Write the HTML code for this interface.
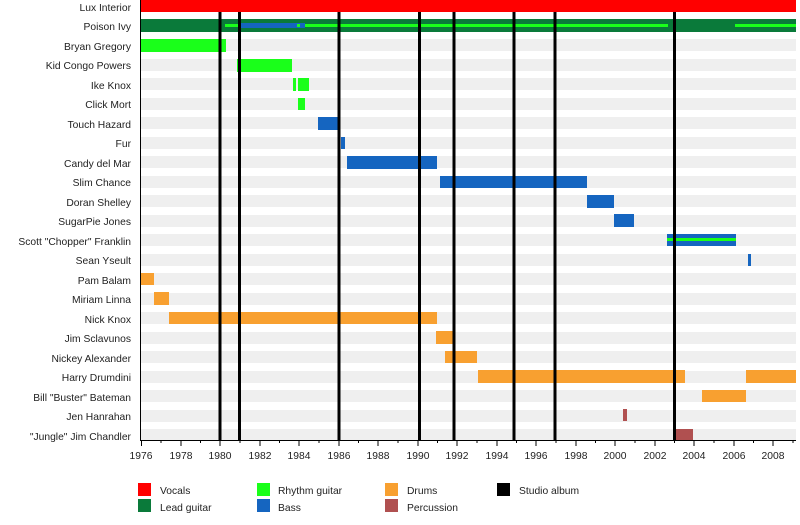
<!DOCTYPE html>
<html><head><meta charset="utf-8"><style>
body{margin:0;background:#fff;}
svg text{font-family:"Liberation Sans",sans-serif;font-size:10.3px;fill:#222;}
</style></head><body>
<svg width="800" height="520" xmlns="http://www.w3.org/2000/svg">
<g fill="#efefef">
<rect x="141" y="20" width="655" height="12"/><rect x="141" y="39" width="655" height="12"/>
<rect x="141" y="59" width="655" height="12"/><rect x="141" y="78" width="655" height="12"/>
<rect x="141" y="98" width="655" height="12"/><rect x="141" y="117" width="655" height="12"/>
<rect x="141" y="137" width="655" height="12"/><rect x="141" y="156" width="655" height="12"/>
<rect x="141" y="176" width="655" height="12"/><rect x="141" y="195" width="655" height="12"/>
<rect x="141" y="215" width="655" height="12"/><rect x="141" y="234" width="655" height="12"/>
<rect x="141" y="254" width="655" height="12"/><rect x="141" y="273" width="655" height="12"/>
<rect x="141" y="293" width="655" height="12"/><rect x="141" y="312" width="655" height="12"/>
<rect x="141" y="332" width="655" height="12"/><rect x="141" y="351" width="655" height="12"/>
<rect x="141" y="371" width="655" height="12"/><rect x="141" y="390" width="655" height="12"/>
<rect x="141" y="410" width="655" height="12"/><rect x="141" y="429" width="655" height="11"/>
</g>
<g text-anchor="end">
<text x="131" y="11">Lux Interior</text><text x="131" y="30">Poison Ivy</text>
<text x="131" y="50">Bryan Gregory</text><text x="131" y="69">Kid Congo Powers</text>
<text x="131" y="89">Ike Knox</text><text x="131" y="108">Click Mort</text>
<text x="131" y="128">Touch Hazard</text><text x="131" y="147">Fur</text>
<text x="131" y="167">Candy del Mar</text><text x="131" y="186">Slim Chance</text>
<text x="131" y="206">Doran Shelley</text><text x="131" y="225">SugarPie Jones</text>
<text x="131" y="245">Scott "Chopper" Franklin</text><text x="131" y="264">Sean Yseult</text>
<text x="131" y="284">Pam Balam</text><text x="131" y="303">Miriam Linna</text>
<text x="131" y="323">Nick Knox</text><text x="131" y="342">Jim Sclavunos</text>
<text x="131" y="362">Nickey Alexander</text><text x="131" y="381">Harry Drumdini</text>
<text x="131" y="401">Bill "Buster" Bateman</text><text x="131" y="420">Jen Hanrahan</text>
<text x="131" y="440">"Jungle" Jim Chandler</text>
</g>
<rect x="141" y="0" width="655" height="12" fill="#ff0000"/>
<rect x="141" y="19" width="655" height="13" fill="#0a7a3a"/>
<rect x="225" y="24" width="443" height="3" fill="#1aff1a"/>
<rect x="735" y="24" width="61" height="3" fill="#1aff1a"/>
<rect x="240" y="23" width="65" height="5" fill="#1565c0"/>
<rect x="297" y="24" width="3" height="3" fill="#1aff1a"/>
<g fill="#1aff1a">
<rect x="141" y="39" width="85" height="13"/><rect x="237" y="59" width="55" height="13"/>
<rect x="293" y="78" width="3" height="13"/><rect x="298" y="78" width="11" height="13"/>
<rect x="298" y="98" width="7" height="12"/>
</g>
<g fill="#1565c0">
<rect x="318" y="117" width="20" height="13"/><rect x="341" y="137" width="4" height="12"/>
<rect x="347" y="156" width="90" height="13"/><rect x="440" y="176" width="147" height="12"/>
<rect x="587" y="195" width="27" height="13"/><rect x="614" y="214" width="20" height="13"/>
<rect x="667" y="234" width="69" height="12"/><rect x="748" y="254" width="3" height="12"/>
</g>
<rect x="667" y="238" width="69" height="3" fill="#1aff1a"/>
<g fill="#f8a030">
<rect x="141" y="273" width="13" height="12"/><rect x="154" y="292" width="15" height="13"/>
<rect x="169" y="312" width="268" height="12"/><rect x="436" y="331" width="19" height="13"/>
<rect x="445" y="351" width="32" height="12"/><rect x="478" y="370" width="207" height="13"/>
<rect x="746" y="370" width="50" height="13"/><rect x="702" y="390" width="44" height="12"/>
</g>
<rect x="623" y="409" width="4" height="12" fill="#b05050"/>
<rect x="674" y="429" width="19" height="12" fill="#b05050"/>
<g fill="#000">
<rect x="218.5" y="12" width="3" height="428"/><rect x="238" y="12" width="3" height="428"/>
<rect x="337.5" y="12" width="3" height="428"/><rect x="418" y="12" width="3" height="428"/>
<rect x="452.5" y="12" width="3" height="428"/><rect x="512.5" y="12" width="3" height="428"/>
<rect x="553.5" y="12" width="3" height="428"/><rect x="673" y="12" width="3" height="428"/>
<rect x="140" y="0" width="1" height="441"/>
</g>
<line x1="141" y1="440.5" x2="796" y2="440.5" stroke="#000"/>
<g stroke="#000">
<path d="M141.5 440v6M161 440v3M181 440v6M200.5 440v3M220 440v6M240 440v3M260 440v6M279.5 440v3M299 440v6M319 440v3M339 440v6M358.5 440v3M378 440v6M398 440v3M418 440v6M437.5 440v3M457 440v6M477 440v3M497 440v6M516.5 440v3M536 440v6M556 440v3M576 440v6M595.5 440v3M615 440v6M635 440v3M655 440v6M674.5 440v3M694 440v6M714 440v3M734 440v6M753.5 440v3M773 440v6M793 440v3"/>
</g>
<g text-anchor="middle">
<text x="141" y="459">1976</text><text x="181" y="459">1978</text><text x="220" y="459">1980</text>
<text x="260" y="459">1982</text><text x="299" y="459">1984</text><text x="339" y="459">1986</text>
<text x="378" y="459">1988</text><text x="418" y="459">1990</text><text x="457" y="459">1992</text>
<text x="497" y="459">1994</text><text x="536" y="459">1996</text><text x="576" y="459">1998</text>
<text x="615" y="459">2000</text><text x="655" y="459">2002</text><text x="694" y="459">2004</text>
<text x="734" y="459">2006</text><text x="773" y="459">2008</text>
</g>
<rect x="138" y="483" width="13" height="13" fill="#ff0000"/><text x="160" y="494">Vocals</text>
<rect x="138" y="499" width="13" height="13" fill="#0a7a3a"/><text x="160" y="511">Lead guitar</text>
<rect x="257" y="483" width="13" height="13" fill="#1aff1a"/><text x="278" y="494">Rhythm guitar</text>
<rect x="257" y="499" width="13" height="13" fill="#1565c0"/><text x="278" y="511">Bass</text>
<rect x="385" y="483" width="13" height="13" fill="#f8a030"/><text x="407" y="494">Drums</text>
<rect x="385" y="499" width="13" height="13" fill="#b05050"/><text x="407" y="511">Percussion</text>
<rect x="497" y="483" width="13" height="13" fill="#000"/><text x="519" y="494">Studio album</text>
</svg>
</body></html>
